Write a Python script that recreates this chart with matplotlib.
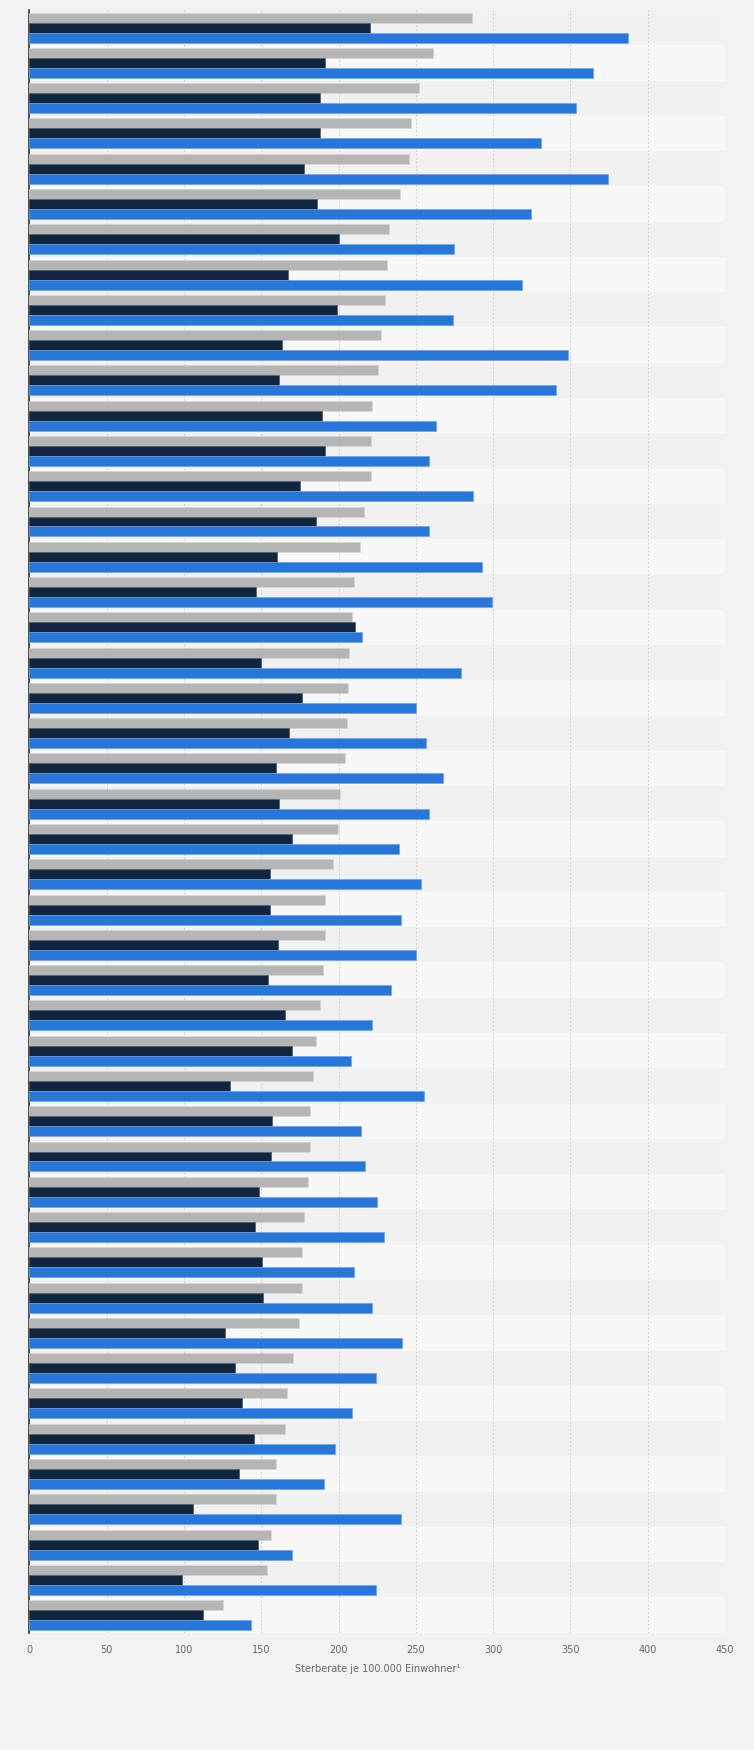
import numpy as np
import matplotlib.pyplot as plt

# Werte je Zeile (von oben nach unten), Sterberate je 100.000 Einwohner
gesamt = [286, 261.4, 252.1, 247.1, 245.3, 240, 232.8, 231.6, 230.3, 227.5,
          225.6, 221.3, 220.7, 220.7, 216.6, 214.1, 210.1, 208.8, 207, 206.3,
          205.7, 204.2, 201, 199.8, 196.7, 191.4, 191.4, 190.2, 188, 185.5,
          183.6, 181.8, 181.8, 180.5, 177.7, 176.5, 176.5, 174.6, 170.6, 166.8,
          165.6, 159.7, 159.7, 156.5, 153.8, 125.4]
frauen = [220.4, 191.4, 188, 188, 177.4, 185.8, 200.4, 167.4, 199.2, 163.4,
          161.5, 189.2, 191.4, 175.2, 185.5, 160.3, 146.3, 210.7, 149.7, 176.2,
          167.8, 159.7, 161.5, 169.6, 155.6, 155.6, 160.9, 154.4, 165.6, 169.6,
          129.5, 157.2, 156.2, 148.8, 145.7, 150.6, 151.3, 126.4, 133.2, 137.6,
          145.3, 135.7, 105.8, 148.1, 98.7, 112]
maenner = [387.5, 364.8, 353.3, 331.2, 374.4, 324.6, 274.8, 318.4, 274.2, 348.6,
           340.8, 263.3, 258.6, 287, 258.6, 292.9, 299.4, 215.4, 279.5, 250.2,
           256.8, 267.7, 258.6, 239.3, 253, 240.6, 250.2, 234, 221.9, 208.2,
           255.5, 214.7, 217.2, 225, 229.7, 210.1, 221.9, 241.2, 224.4, 208.8,
           197.9, 190.8, 240.6, 169.9, 224.4, 143.5]
x_ticks = [0, 50, 100, 150, 200, 250, 300, 350, 400, 450]

n = len(gesamt)
pos = np.arange(n)
h = 0.283

fig = plt.figure(figsize=(7.54, 17.5), dpi=100)
fig.patch.set_facecolor('#f2f2f2')
ax = fig.add_axes([0.0391, 0.0670, 0.9224, 0.9273])
ax.set_facecolor('#f2f2f2')

# Zeilenbaender abwechselnd
for i in range(n):
    ax.axhspan(i - 0.5, i + 0.5, color='#f1f1f1' if i % 2 == 0 else '#f8f8f8', zorder=0, lw=0)

ax.barh(pos - h, gesamt, height=h, color='#b5b5b5', edgecolor='#d6d6d6', linewidth=0.5, zorder=3)
ax.barh(pos, frauen, height=h, color='#10263e', edgecolor='#4a5a6a', linewidth=0.5, zorder=3)
ax.barh(pos + h, maenner, height=h, color='#2776da', edgecolor='#6ea3e8', linewidth=0.5, zorder=3)

ax.set_xlim(0, 450)
ax.set_ylim(n - 0.5, -0.5)
ax.set_xticks(x_ticks)
ax.set_xticklabels([str(t) for t in x_ticks], fontsize=7, color='#666666')
ax.set_yticks([])
ax.tick_params(axis='x', length=0, pad=9)
ax.grid(axis='x', color='#cfcfcf', linestyle=(0, (2, 2)), linewidth=0.7, zorder=1)
ax.set_axisbelow(True)

for s in ['top', 'right', 'bottom']:
    ax.spines[s].set_visible(False)
ax.spines['left'].set_color('#333333')
ax.spines['left'].set_linewidth(1.2)

ax.set_xlabel('Sterberate je 100.000 Einwohner¹', fontsize=7, color='#666666', labelpad=6)

plt.savefig('out.png', dpi=100, facecolor=fig.get_facecolor())
